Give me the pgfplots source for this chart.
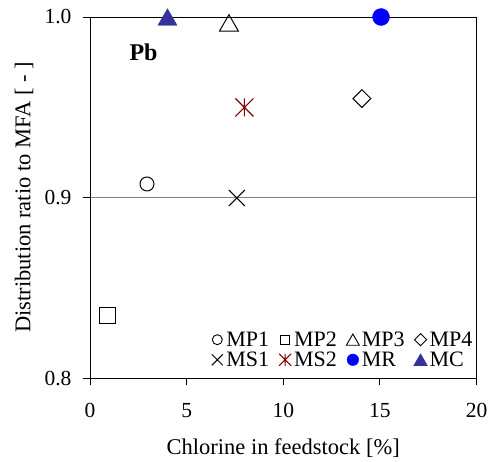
\documentclass[border=0pt]{standalone}
\usepackage{fontspec}
\setmainfont{Liberation Serif}
\usepackage{pgfplots}
\pgfplotsset{compat=1.18}
\definecolor{msred}{RGB}{128,0,0}
\definecolor{mcblue}{RGB}{51,51,153}
\pgfdeclareplotmark{xbox}{%
  \pgfpathmoveto{\pgfqpoint{-\pgfplotmarksize}{-\pgfplotmarksize}}%
  \pgfpathlineto{\pgfqpoint{\pgfplotmarksize}{\pgfplotmarksize}}%
  \pgfpathmoveto{\pgfqpoint{-\pgfplotmarksize}{\pgfplotmarksize}}%
  \pgfpathlineto{\pgfqpoint{\pgfplotmarksize}{-\pgfplotmarksize}}%
  \pgfusepathqstroke}
\pgfdeclareplotmark{xstar}{%
  \pgfpathmoveto{\pgfqpoint{-\pgfplotmarksize}{-\pgfplotmarksize}}%
  \pgfpathlineto{\pgfqpoint{\pgfplotmarksize}{\pgfplotmarksize}}%
  \pgfpathmoveto{\pgfqpoint{-\pgfplotmarksize}{\pgfplotmarksize}}%
  \pgfpathlineto{\pgfqpoint{\pgfplotmarksize}{-\pgfplotmarksize}}%
  \pgfpathmoveto{\pgfqpoint{0pt}{-\pgfplotmarksize}}%
  \pgfpathlineto{\pgfqpoint{0pt}{\pgfplotmarksize}}%
  \pgfusepathqstroke}
\begin{document}
\begin{tikzpicture}
\begin{axis}[
  name=ax,
  scale only axis, width=386.5pt, height=361pt,
  xmin=0, xmax=20, ymin=0.8, ymax=1.0,
  xtick={0,5,10,15,20}, ytick={0.8,0.9,1.0},
  tick align=outside, xtick pos=left, ytick pos=left,
  major tick length=7pt,
  ymajorgrids, grid style={gray, line width=0.7pt},
  axis line style={line width=0.9pt},
  tick style={black, line width=0.9pt},
  every tick label/.append style={font=\fontsize{21.5}{25}\selectfont},
  /pgf/number format/assume math mode=true,
  xticklabel style={yshift=-15pt},
  yticklabel style={xshift=-8pt, /pgf/number format/.cd, fixed, fixed zerofill, precision=1},
  xlabel={Chlorine in feedstock [\%]},
  ylabel={Distribution ratio to MFA [ - ]},
  every axis x label/.style={at={(axis description cs:0.5,0)}, anchor=center, yshift=-70pt, font=\fontsize{22.5}{26}\selectfont},
  every axis y label/.style={at={(axis description cs:0,0.5)}, rotate=90, anchor=center, yshift=66pt, font=\fontsize{22.5}{26}\selectfont},
  clip=false,
  legend columns=4,
  legend cell align=left,
  legend image code/.code={\path (0pt,0pt) (13pt,0pt); \draw[#1] plot coordinates {(6.5pt,0pt)};},
  legend style={draw=none, fill=none, at={(1,0)}, anchor=south east, xshift=-2pt, yshift=8pt,
    font=\fontsize{22}{24}\selectfont, inner sep=0pt,
    /tikz/every even column/.append style={column sep=7pt}},
]
\addplot[only marks, forget plot, mark=o, mark size=7pt, line width=1pt, black] coordinates {(2.95,0.9075)};
\addplot[only marks, forget plot, mark=square, mark size=8pt, line width=1pt, black] coordinates {(0.905,0.8349)};
\addplot[only marks, forget plot, mark=triangle, mark size=11pt, mark options={yshift=-2.75pt}, line width=1pt, black] coordinates {(7.19,0.9967)};
\addplot[only marks, forget plot, mark=square, mark size=6.3pt, mark options={rotate=45}, line width=1pt, black] coordinates {(14.07,0.9548)};
\addplot[only marks, forget plot, mark=xbox, mark size=8pt, line width=1.1pt, black] coordinates {(7.6,0.8997)};
\addplot[only marks, forget plot, mark=xstar, mark size=9pt, line width=1.1pt, msred] coordinates {(7.99,0.9499)};
\addplot[only marks, forget plot, mark=*, mark size=8.5pt, blue, mark options={draw=blue, fill=blue}] coordinates {(15.06,1.0)};
\addplot[only marks, forget plot, mark=triangle*, mark size=11pt, mark options={draw=mcblue, fill=mcblue, yshift=-2.75pt}] coordinates {(4.01,1.0)};

\addlegendimage{only marks, mark=o, mark size=5pt, line width=0.9pt, black}
\addlegendentry{MP1}
\addlegendimage{only marks, mark=square, mark size=4.6pt, line width=0.9pt, black}
\addlegendentry{MP2}
\addlegendimage{only marks, mark=triangle, mark size=7.5pt, mark options={yshift=-1.8pt}, line width=0.9pt, black}
\addlegendentry{MP3}
\addlegendimage{only marks, mark=square, mark size=4.3pt, mark options={rotate=45}, line width=0.9pt, black}
\addlegendentry{MP4}
\addlegendimage{only marks, mark=xbox, mark size=5.5pt, line width=1pt, black}
\addlegendentry{MS1}
\addlegendimage{only marks, mark=xstar, mark size=6pt, line width=1pt, msred}
\addlegendentry{MS2}
\addlegendimage{only marks, mark=*, mark size=5.8pt, mark options={draw=blue, fill=blue}}
\addlegendentry{MR}
\addlegendimage{only marks, mark=triangle*, mark size=8pt, mark options={draw=mcblue, fill=mcblue, yshift=-2pt}}
\addlegendentry{MC}

\node[font=\fontsize{24}{28}\selectfont\bfseries, inner sep=0pt] at (axis cs:2.77,0.9806) {Pb};
\end{axis}
\pgfresetboundingbox
\path[use as bounding box] ([xshift=-90pt,yshift=-83pt]ax.south west) rectangle ([xshift=15.5pt,yshift=17pt]ax.north east);
\end{tikzpicture}
\end{document}
